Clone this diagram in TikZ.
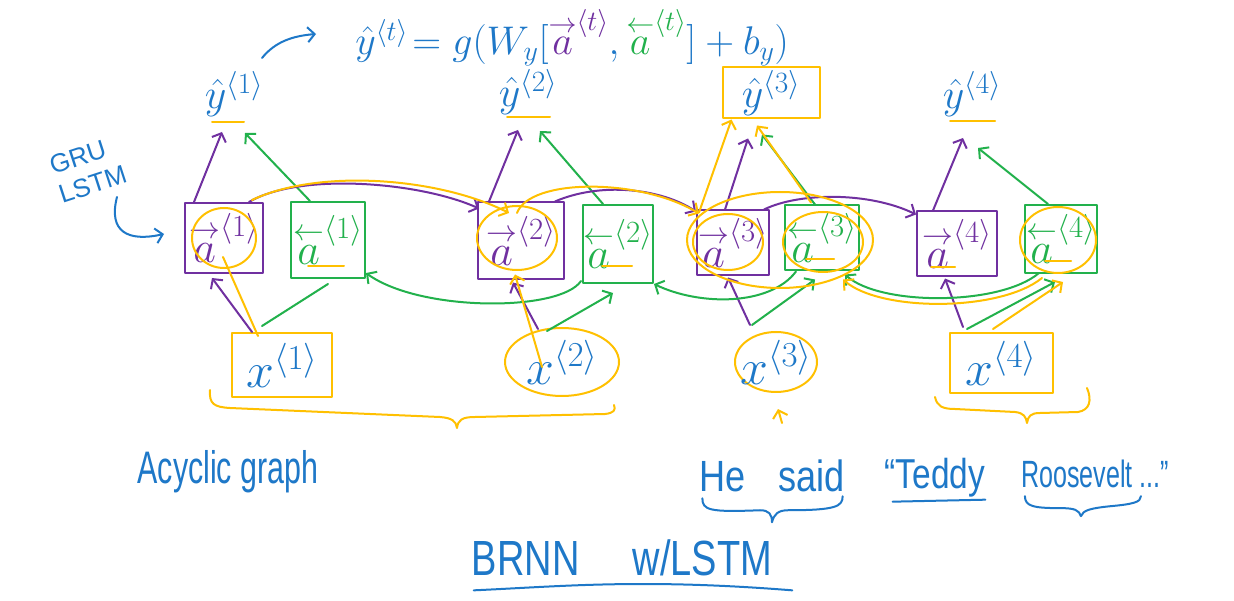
\RequirePackage{fix-cm}
\documentclass[tikz,border=0pt]{standalone}
\usepackage{amsmath}
\usepackage{graphicx}
\usepackage{fontspec}
\setmainfont{Liberation Sans}
\usetikzlibrary{arrows.meta,calc,shapes.geometric}
\definecolor{cblue}{RGB}{30,120,200}
\definecolor{cpurp}{RGB}{112,48,160}
\definecolor{cgreen}{RGB}{34,177,76}
\definecolor{cyell}{RGB}{255,192,0}
\newcommand{\fwd}{{\overset{\rightarrow}{a}}}
\newcommand{\bwd}{{\overset{\leftarrow}{a}}}
\tikzset{
  pen/.style={line width=2pt, line cap=round, line join=round},
  arr/.style={-{Straight Barb[length=7pt,width=15pt]}},
  fwdbox/.style={draw=cpurp, pen, text=cpurp, rectangle, inner sep=0pt, font=\fontsize{44}{46}\selectfont},
  bwdbox/.style={draw=cgreen, pen, text=cgreen, rectangle, inner sep=0pt, font=\fontsize{44}{46}\selectfont},
  xnode/.style={draw=cyell, pen, text=cblue, inner sep=0pt, font=\fontsize{50}{52}\selectfont},
  yhat/.style={text=cblue, inner sep=1pt, font=\fontsize{42}{44}\selectfont},
  hl/.style={draw=cyell, pen},
  pl/.style={draw=cpurp, pen},
  gl/.style={draw=cgreen, pen},
  bl/.style={draw=cblue, pen},
  note/.style={text=cblue, inner sep=0pt, font=\fontsize{38}{40}\selectfont}
}
\begin{document}
\begin{tikzpicture}[x=1pt,y=-1pt]
\useasboundingbox (0,0) rectangle (1234,601);
\fill[white] (0,0) rectangle (1234,601);

% ---- equation ----
\node[text=cblue, inner sep=0pt, font=\fontsize{40}{42}\selectfont] (eq) at (572,38)
  {$\hat{y}^{\langle t\rangle}\!=g(W_y[\textcolor{cpurp}{\fwd^{\langle t\rangle}},\textcolor{cgreen}{\bwd^{\langle t\rangle}}]+b_y)$};
\coordinate (eqtail) at (262,58);
\coordinate (eqhead) at (316,34);
\draw[bl, arr] (eqtail) .. controls (275,42) and (292,36) .. (eqhead);

% ---- GRU / LSTM ----
\node[text=cblue, rotate=18, align=left, inner sep=0pt, font=\fontsize{26}{30}\selectfont] (gru) at (88,170) {GRU\\LSTM};
\coordinate (grutail) at (117,197);

% ---- outputs ----
\node[yhat] (y1) at (234,94) {$\hat{y}^{\langle 1\rangle}$};
\node[yhat] (y2) at (528,92) {$\hat{y}^{\langle 2\rangle}$};
\node[yhat, draw=cyell, pen, minimum width=97pt, minimum height=51pt] (y3) at (771,93) {$\hat{y}^{\langle 3\rangle}$};
\node[yhat] (y4) at (972,94) {$\hat{y}^{\langle 4\rangle}$};
\draw[hl] ($(y1)+(-22,28)$) -- ($(y1)+(10,28)$);
\draw[hl] ($(y2)+(-21,25)$) -- ($(y2)+(22,25)$);
\draw[hl] ($(y4)+(-22,27)$) -- ($(y4)+(23,27)$);

% ---- hidden units ----
\node[fwdbox, minimum width=78pt, minimum height=70pt] (fa1) at (224,238) {$\fwd^{\langle 1\rangle}$};
\node[bwdbox, minimum width=74pt, minimum height=76pt] (ba1) at (328,240) {$\bwd^{\langle 1\rangle}$};
\node[fwdbox, minimum width=86pt, minimum height=77pt] (fa2) at (521,241) {$\fwd^{\langle 2\rangle}$};
\node[bwdbox, minimum width=70pt, minimum height=78pt] (ba2) at (618,244) {$\bwd^{\langle 2\rangle}$};
\node[fwdbox, minimum width=72pt, minimum height=65pt] (fa3) at (733,243) {$\fwd^{\langle 3\rangle}$};
\node[bwdbox, minimum width=74pt, minimum height=65pt] (ba3) at (822,238) {$\bwd^{\langle 3\rangle}$};
\node[fwdbox, minimum width=80pt, minimum height=65pt] (fa4) at (957,244) {$\fwd^{\langle 4\rangle}$};
\node[bwdbox, minimum width=72pt, minimum height=68pt] (ba4) at (1061,239) {$\bwd^{\langle 4\rangle}$};

\draw[bl, arr] (grutail) .. controls (108,232) and (128,242) .. ($(fa1.west)+(-20,-4)$);

% underlines inside boxes
\draw[hl] ($(ba1)+(-20,26)$) -- ($(ba1)+(16,26)$);
\draw[hl] ($(ba2)+(-16,22)$) -- ($(ba2)+(14,22)$);
\draw[hl] ($(ba3)+(-16,21)$) -- ($(ba3)+(12,21)$);
\draw[hl] ($(fa4)+(-26,23)$) -- ($(fa4)+(-2,23)$);
\draw[hl] ($(ba4)+(-16,22)$) -- ($(ba4)+(10,22)$);

% ---- inputs ----
\node[xnode, rectangle, minimum width=100pt, minimum height=64pt] (x1) at (282,365) {$x^{\langle 1\rangle}$};
\node[xnode, ellipse, inner sep=-6pt, minimum width=114pt, minimum height=68pt] (x2) at (562,362) {$x^{\langle 2\rangle}$};
\node[xnode, ellipse, inner sep=-8pt, minimum width=82pt, minimum height=60pt] (x3) at (776,362) {$x^{\langle 3\rangle}$};
\node[xnode, rectangle, minimum width=103pt, minimum height=60pt] (x4) at (1001,363) {$x^{\langle 4\rangle}$};

% ---- input -> hidden ----
\draw[pl, arr] ($(x1.north)+(-30,0)$) -- ($(fa1.south)+(-12,4)$);
\draw[gl] ($(x1.north)+(-20,-6)$) -- ($(ba1.south)+(0,5)$);
\draw[pl, arr] ($(x2.north)+(-24,2)$) -- ($(fa2.south)+(-8,2)$);
\draw[gl, arr] ($(x2.north)+(-15,4)$) -- ($(ba2.south)+(-5,9)$);
\draw[pl, arr] ($(x3.north)+(-26,-6)$) -- ($(fa3.south)+(-5,1)$);
\draw[gl, arr] ($(x3.north)+(-24,-6)$) -- ($(ba3.south)+(-7,8)$);
\draw[pl, arr] ($(x4.north)+(-38,-5)$) -- ($(fa4.south)+(-12,1)$);
\draw[gl, arr] ($(x4.north)+(-34,-3)$) -- ($(ba4.south)+(-6,8)$);

% ---- hidden -> output ----
\draw[pl, arr] ($(fa1.north west)+(10,0)$) -- (222,132);
\draw[gl, arr] ($(ba1.north)+(-18,0)$) -- (245,133);
\draw[pl, arr] ($(fa2.north west)+(12,0)$) -- (518,130);
\draw[gl, arr] ($(ba2.north)+(-15,0)$) -- (540,131);
\draw[pl, arr] ($(fa3.north)+(-8,0)$) -- ($(y3.south)+(-23,19)$);
\draw[gl, arr] ($(ba3.north)+(-7,0)$) -- ($(y3.south)+(-9,15)$);
\draw[pl, arr] ($(fa4.north)+(-24,0)$) -- (963,138);
\draw[gl, arr] ($(ba4.north)+(-13,0)$) -- (978,148);

% ---- forward chain ----
\draw[pl, arr] ($(fa1.north east)+(-15,0)$) .. controls (300,172) and (420,182) .. ($(fa2.north west)+(2,7)$);
\draw[pl, arr] ($(fa2.north east)+(-10,0)$) .. controls (600,182) and (660,188) .. ($(fa3.north west)+(0,2)$);
\draw[pl, arr] ($(fa3.north east)+(-6,0)$) .. controls (800,192) and (870,192) .. ($(fa4.north west)+(0,4)$);

% ---- backward chain ----
\draw[gl, arr] ($(ba4.south west)+(15,-1)$) .. controls (1000,306) and (880,306) .. ($(ba3.south)+(23,3)$);
\draw[gl, arr] ($(ba3.south west)+(12,0)$) .. controls (770,306) and (700,306) .. (ba2.south east);
\draw[gl, arr] ($(ba2.south west)+(-1,-3)$) .. controls (560,312) and (420,312) .. ($(ba1.south east)+(0,-6)$);

% ---- yellow highlights ----
\draw[hl] (fa1.center) ellipse [x radius=32, y radius=30];
\draw[hl] ($(fa2.center)+(-4,-3)$) ellipse [x radius=40, y radius=32];
\draw[hl] ($(fa3.center)+(-5,-1)$) ellipse [x radius=35, y radius=28];
\draw[hl] ($(ba3.center)+(1,4)$) ellipse [x radius=40, y radius=30];
\draw[hl] ($(ba4.center)+(-3,1)$) ellipse [x radius=38, y radius=33];
\draw[hl] (780,240) ellipse [x radius=93, y radius=48];
\draw[hl] ($(x1.north)+(-24,4)$) -- ($(fa1.center)+(-1,19)$);
\draw[hl, arr] ($(fa1.north east)+(-12,-2)$) .. controls (320,168) and (440,178) .. ($(fa2.center)+(-12,-28)$);
\draw[hl, arr] ($(x2)+(-20,5)$) -- ($(fa2.south)+(-6,-6)$);
\draw[hl, arr] ($(fa2.center)+(-4,-28)$) .. controls (530,178) and (640,178) .. ($(fa3.north west)+(3,4)$);
\draw[hl, arr] ($(fa3.north west)+(3,3)$) -- ($(y3.south west)+(10,0)$);
\draw[hl, arr] ($(ba3.north)+(-11,-2)$) -- ($(y3.south)+(-14,6)$);
\draw[hl, arr] ($(x4.north)+(-8,-3)$) -- ($(ba4.south)+(2,8)$);
\draw[hl, arr] ($(ba4.south west)+(18,4)$) .. controls (1000,312) and (880,312) .. ($(ba3.south)+(21,8)$);

% ---- yellow braces and mark ----
\draw[hl] (210,390) .. controls (209,404) and (214,407) .. (230,408) -- (440,417) .. controls (452,418) and (456,421) .. (457,428) .. controls (458,420) and (462,417) .. (475,417) -- (605,414) .. controls (614,413) and (616,410) .. (614,405);
\draw[hl] (935,397) .. controls (937,406) and (942,409) .. (955,409) -- (1015,412) .. controls (1024,413) and (1026,417) .. (1027,423) .. controls (1028,416) and (1031,413) .. (1040,413) -- (1078,412) .. controls (1090,410) and (1092,400) .. (1087,388);
\coordinate (marktail) at (782,423);
\draw[hl, arr] (marktail) -- ($(x3.south)+(2,16)$);

% ---- notes ----
\node[note] (acyc) at (228,472) {\scalebox{0.8}[1.2]{Acyclic graph}};
\node[note] (hesaid) at (772,476) {\scalebox{0.95}[1.15]{He\hspace{0.9em}said}};
\node[note] (teddy) at (935,478) {\scalebox{0.88}[1.1]{“Teddy}};
\node[note] (roos) at (1095,474) {\scalebox{0.66}[1]{Roosevelt ...”}};
\draw[bl] ($(teddy.south west)+(8,4)$) -- ($(teddy.south east)+(0,2)$);
\draw[bl] ($(hesaid.south west)+(3,6)$) .. controls ($(hesaid.south west)+(3,18)$) and ($(hesaid.south west)+(10,20)$) .. ($(hesaid.south)+(-12,18)$) .. controls ($(hesaid.south)+(-3,18)$) and ($(hesaid.south)+(0,22)$) .. ($(hesaid.south)+(0,30)$) .. controls ($(hesaid.south)+(2,22)$) and ($(hesaid.south)+(6,18)$) .. ($(hesaid.south)+(16,18)$) .. controls ($(hesaid.south east)+(-8,18)$) and ($(hesaid.south east)+(-2,14)$) .. ($(hesaid.south east)+(-2,4)$);
\draw[bl] ($(roos.south west)+(4,8)$) .. controls ($(roos.south west)+(4,18)$) and ($(roos.south west)+(12,20)$) .. ($(roos.south west)+(40,20)$) .. controls ($(roos.south west)+(54,20)$) and ($(roos.south west)+(58,22)$) .. ($(roos.south west)+(60,28)$) .. controls ($(roos.south west)+(62,22)$) and ($(roos.south west)+(70,20)$) .. ($(roos.south west)+(90,18)$) .. controls ($(roos.south west)+(112,16)$) and ($(roos.south west)+(120,14)$) .. ($(roos.south west)+(120,8)$);
\node[note] (brnn) at (622,558) {\scalebox{1}[1.3]{BRNN\hspace{1.4em}w/LSTM}};
\draw[bl] ($(brnn.south west)+(2,14)$) .. controls ($(brnn.south)+(-60,10)$) and ($(brnn.south)+(20,2)$) .. ($(brnn.south east)+(20,14)$);
\end{tikzpicture}
\end{document}
